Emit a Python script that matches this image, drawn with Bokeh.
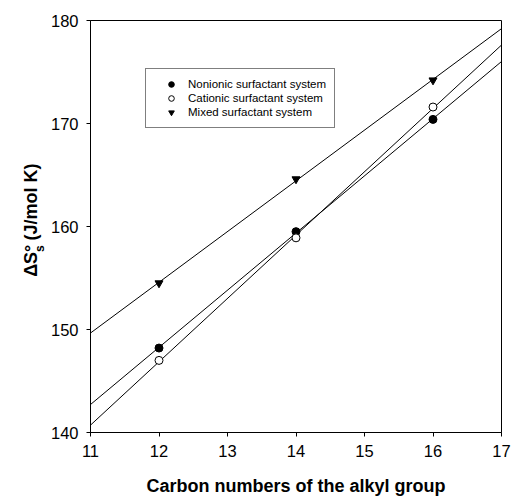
import numpy as np
from bokeh.plotting import figure
from bokeh.layouts import row
from bokeh.models import Range1d, Legend, LegendItem, FixedTicker
from bokeh.core.properties import value
from bokeh.embed import file_html
from bokeh.resources import INLINE

# ---- data ----
carbon = [12, 14, 16]
nonionic = [148.2, 159.5, 170.4]
cationic = [147.0, 158.9, 171.6]
mixed = [154.5, 164.6, 174.2]
x_ticks = [11, 12, 13, 14, 15, 16, 17]
y_ticks = [140, 150, 160, 170, 180]
labels = ["Nonionic surfactant system", "Cationic surfactant system", "Mixed surfactant system"]
y_label_parts = ["ΔS°", "s", "(J/mol K)"]

FONT = "Liberation Sans"
W, H = 512, 497
LBL_W = 46          # narrow panel that carries the y-axis title
FW, FH = 411, 412   # plot frame size

# ---- main plot ----
p = figure(frame_width=FW, frame_height=FH, x_range=Range1d(11, 17), y_range=Range1d(140, 180),
           output_backend="svg", toolbar_location=None,
           min_border_left=90 - LBL_W, min_border_right=11, min_border_top=20, min_border_bottom=65)

p.xgrid.visible = False
p.ygrid.visible = False
p.outline_line_color = "black"
p.outline_line_width = 1
p.background_fill_color = "white"
p.border_fill_color = "white"

for ax in (p.xaxis[0], p.yaxis[0]):
    ax.major_tick_out = 4
    ax.major_tick_in = 0
    ax.minor_tick_out = 0
    ax.minor_tick_in = 0
    ax.axis_line_color = "black"
    ax.major_tick_line_color = "black"
    ax.major_label_text_font = FONT
    ax.major_label_text_font_size = "16.5px"
    ax.major_label_text_color = "black"
    ax.major_label_standoff = 8

p.xaxis.ticker = FixedTicker(ticks=x_ticks)
p.yaxis.ticker = FixedTicker(ticks=y_ticks)

p.xaxis.axis_label = "Carbon numbers of the alkyl group"
p.xaxis.axis_label_text_font = FONT
p.xaxis.axis_label_text_font_size = "18px"
p.xaxis.axis_label_text_font_style = "bold"
p.xaxis.axis_label_text_color = "black"
p.xaxis.axis_label_standoff = 16

# fitted lines across the full x range
x_ends = np.array([p.x_range.start, p.x_range.end])
series = [
    (nonionic, "circle", "black"),
    (cationic, "circle", "white"),
    (mixed, "inverted_triangle", "black"),
]
items = []
for (vals, marker, fill), lab in zip(series, labels):
    k, b = np.polyfit(carbon, vals, 1)
    p.line(x_ends, k * x_ends + b, line_color="black", line_width=1)
    r = p.scatter(carbon, vals, marker=marker, size=8, fill_color=fill,
                  line_color="black", line_width=1)
    items.append(LegendItem(label=lab, renderers=[r]))

legend = Legend(items=items, location=(55, 304))
legend.label_text_font = FONT
legend.label_text_font_size = "11.5px"
legend.label_text_color = "black"
legend.border_line_color = "black"
legend.border_line_width = 1
legend.background_fill_color = "white"
legend.background_fill_alpha = 1
legend.padding = 8
legend.margin = 0
legend.spacing = 0
legend.glyph_width = 34
legend.glyph_height = 14
legend.label_height = 14
legend.label_standoff = 0
p.add_layout(legend, "center")

# ---- narrow panel with the rotated y-axis title (pixel layout space) ----
t = figure(width=LBL_W, height=H, x_range=Range1d(0, LBL_W), y_range=Range1d(0, H),
           output_backend="svg", toolbar_location=None, x_axis_type=None, y_axis_type=None,
           min_border=0)
t.xgrid.visible = False
t.ygrid.visible = False
t.outline_line_color = None
t.background_fill_color = "white"
t.border_fill_color = "white"
t.text(x=[30, 39, 30], y=[H - 310, H - 280, H - 266], text=y_label_parts,
       angle=np.pi / 2, text_font=value(FONT), text_font_style="bold",
       text_font_size=["18px", "12px", "18px"], text_color="black",
       text_baseline="alphabetic", text_align="left")

layout = row(t, p, spacing=0)
open("out.html", "w").write(file_html(layout, INLINE))
